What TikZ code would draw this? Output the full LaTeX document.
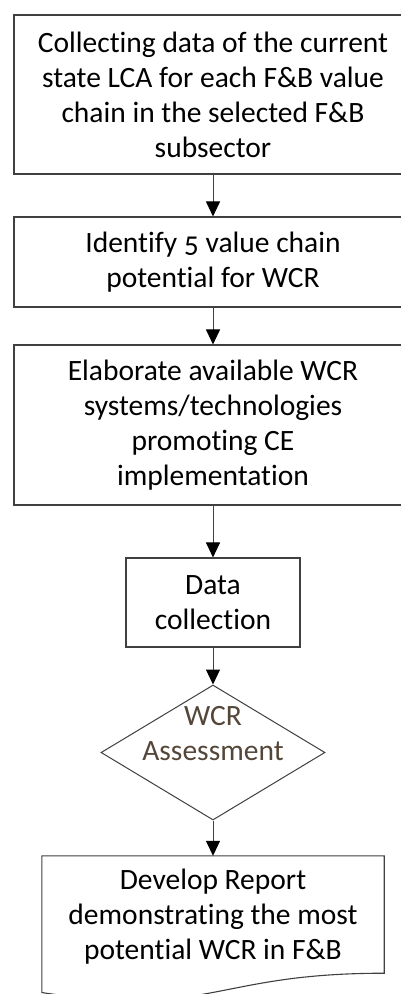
\documentclass[tikz,border=0pt]{standalone}
\usepackage{fontspec}
\setmainfont[Numbers=OldStyle,RawFeature={-liga}]{Carlito}
\usetikzlibrary{arrows.meta,shapes.geometric,calc}
\definecolor{edgecol}{RGB}{64,64,64}
\definecolor{dtextcol}{RGB}{84,70,56}
\begin{document}
\begin{tikzpicture}[x=1pt,y=-1pt,
  every node/.style={font=\fontsize{29.5}{35}\selectfont, align=center, inner sep=0pt},
  stepbox/.style={draw=edgecol, line width=1.1pt, rectangle},
  decbox/.style={draw=edgecol, line width=1pt, diamond},
  flow/.style={draw=edgecol, line width=1pt, -{Triangle[length=15pt,width=14pt,color=black]}}]
\useasboundingbox[fill=white] (0,0) rectangle (401,994);

\node[stepbox, minimum width=398pt, minimum height=159pt] (b1) at (213,94.5)
  {Collecting data of the current\\state LCA for each F\&B value\\chain in the selected F\&B\\subsector};
\node[stepbox, minimum width=398pt, minimum height=90pt] (b2) at (213,262)
  {Identify 5 value chain\\potential for WCR};
\node[stepbox, minimum width=398pt, minimum height=160pt] (b3) at (213,425)
  {Elaborate available WCR\\systems/technologies\\promoting CE\\implementation};
\node[stepbox, minimum width=174pt, minimum height=89pt] (b4) at (213,602.5)
  {Data\\collection};
\node[decbox, minimum width=224pt, minimum height=135pt] (d) at (213,752.5) {};
\node[text=dtextcol] (dt) at (213,734) {WCR\\Assessment};
\node[minimum width=342pt, minimum height=146pt] (doc) at (213,929) {};
\node (doct) at (213,917) {Develop Report\\demonstrating the most\\potential WCR in F\&B};
\draw[edgecol, line width=1.1pt] (doc.north west) -- (doc.north east)
  -- ($(doc.north east)!0.802!(doc.south east)$)
  .. controls ($(doc.north)!0.802!(doc.south)$) and ($(doc.north)!1.108!(doc.south)$)
  .. ($(doc.north west)!0.934!(doc.south west)$) -- cycle;

\draw[flow] (b1.south) -- (b2.north);
\draw[flow] (b2.south) -- (b3.north);
\draw[flow] (b3.south) -- (b4.north);
\draw[flow] (b4.south) -- (d.north);
\draw[flow] (d.south) -- (doc.north);
\end{tikzpicture}
\end{document}
